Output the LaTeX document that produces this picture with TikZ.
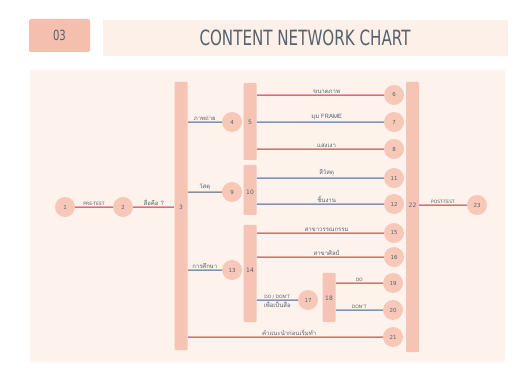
\documentclass[tikz,border=0pt]{standalone}
\usepackage{fontspec}
\setmainfont{DejaVu Sans}
\newfontfamily\thaifont[Script=Thai]{Loma}
\newfontfamily\titlefont[FakeStretch=0.72]{DejaVu Sans}
\definecolor{panelbg}{HTML}{FDF2EC}
\definecolor{bandbg}{HTML}{FDF0E8}
\definecolor{tagbg}{HTML}{F5BFB0}
\definecolor{circbg}{HTML}{F7C8B8}
\definecolor{barbg}{HTML}{F6C4B4}
\definecolor{txt}{HTML}{54636F}
\definecolor{lineblue}{HTML}{8191A7}
\definecolor{linepink}{HTML}{E8A4A0}
\begin{document}
\begin{tikzpicture}[x=1pt,y=-1pt,
  circ/.style={circle,fill=circbg,minimum size=20pt,inner sep=0pt,text=txt,font=\fontsize{5.5}{6}\selectfont},
  bar/.style={rectangle,fill=barbg,minimum width=13pt,inner sep=0pt,rounded corners=1pt},
  barlbl/.style={text=txt,font=\fontsize{6}{7}\selectfont,inner sep=0pt},
  conn/.style={draw=lineblue,line width=0.55pt,preaction={draw=linepink,line width=1.5pt}},
  lbl/.style={text=txt,font=\fontsize{4.5}{5}\selectfont,inner sep=1.2pt,anchor=south},
  thl/.style={text=txt,font=\thaifont\fontsize{6}{7}\selectfont,inner sep=1.2pt,anchor=south}]
\useasboundingbox (0,0) rectangle (530,371);
\fill[white] (0,0) rectangle (530,371);
% header
\node[fill=tagbg,rounded corners=2pt,minimum width=61pt,minimum height=33pt,inner sep=0pt,text=txt,font=\titlefont\fontsize{14}{15}\selectfont] (tag) at (59.5,35.5) {03};
\node[fill=bandbg,minimum width=405pt,minimum height=36pt,inner sep=0pt,text=txt,font=\titlefont\fontsize{21}{22}\selectfont] (title) at (305,38) {CONTENT NETWORK CHART};
\fill[panelbg] (30,70) rectangle (505,362);
% bars
\node[bar,minimum height=268pt] (b3) at (181,216) {};
\node[bar,minimum height=77pt] (b5) at (250,121.5) {};
\node[bar,minimum height=50pt] (b10) at (250,190) {};
\node[bar,minimum height=97pt] (b14) at (250,273.5) {};
\node[bar,minimum height=49pt] (b18) at (329,297.5) {};
\node[bar,minimum height=270pt] (b22) at (412.5,217) {};
\node[barlbl] at (181,207) {3};
\node[barlbl] at (250,122) {5};
\node[barlbl] at (250,192) {10};
\node[barlbl] at (250,270) {14};
\node[barlbl] at (329,298) {18};
\node[barlbl] at (412.5,205) {22};
% circles
\node[circ] (n1) at (65,207) {1};
\node[circ] (n2) at (123,207) {2};
\node[circ] (n4) at (232,122) {4};
\node[circ] (n9) at (232,192) {9};
\node[circ] (n13) at (232,270) {13};
\node[circ] (n6) at (394,95) {6};
\node[circ] (n7) at (394,122) {7};
\node[circ] (n8) at (394,149) {8};
\node[circ] (n11) at (394,178) {11};
\node[circ] (n12) at (394,204) {12};
\node[circ] (n15) at (394,233) {15};
\node[circ] (n16) at (394,257) {16};
\node[circ] (n17) at (308,300) {17};
\node[circ] (n19) at (393,283) {19};
\node[circ] (n20) at (393,310) {20};
\node[circ] (n21) at (393,337) {21};
\node[circ] (n23) at (477,205) {23};
% connectors
\path[conn] (n1) -- node[lbl] {PRE-TEST} (n2);
\path[conn] (n2) -- node[thl] {สื่อคือ ?} (n2 -| b3.west);
\path[conn] (b3.east |- n4) -- node[thl] {ภาพถ่าย} (n4);
\path[conn] (b3.east |- n9) -- node[thl] {วัสดุ} (n9);
\path[conn] (b3.east |- n13) -- node[thl] {การศึกษา} (n13);
\path[conn] (b3.east |- n21) -- node[thl,pos=0.52] {คำแนะนำก่อนเริ่มทำ} (n21);
\path[conn] (b5.east |- n6) -- node[thl,pos=0.55] {ขนาดภาพ} (n6);
\path[conn] (b5.east |- n7) -- node[thl,pos=0.55] {มุม FRAME} (n7);
\path[conn] (b5.east |- n8) -- node[thl,pos=0.55] {แสงเงา} (n8);
\path[conn] (b10.east |- n11) -- node[thl,pos=0.55] {สีวัสดุ} (n11);
\path[conn] (b10.east |- n12) -- node[thl,pos=0.55] {ชิ้นงาน} (n12);
\path[conn] (b14.east |- n15) -- node[thl,pos=0.55] {สาขาวรรณกรรม} (n15);
\path[conn] (b14.east |- n16) -- node[thl,pos=0.55] {สาขาศิลป์} (n16);
\path[conn] (b14.east |- n17) -- node[lbl] {DO / DON'T} node[thl,anchor=north,pos=0.5] {เพื่อเป็นสื่อ} (n17);
\path[conn] (b18.east |- n19) -- node[lbl] {DO} (n19);
\path[conn] (b18.east |- n20) -- node[lbl] {DON'T} (n20);
\path[conn] (b22.east |- n23) -- node[lbl] {POST-TEST} (n23);
\end{tikzpicture}
\end{document}
